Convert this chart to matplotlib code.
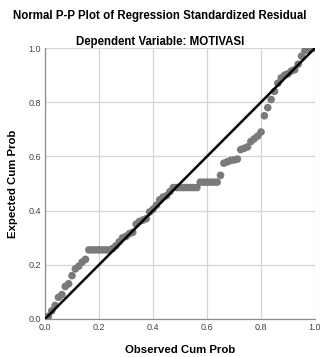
import matplotlib.pyplot as plt

# observed vs expected cumulative probabilities
observed = [
    0.0125, 0.025, 0.0375, 0.05, 0.0625, 0.075, 0.0875, 0.1, 0.1125, 0.125, 0.1375, 0.15,
    0.1625, 0.175, 0.1875, 0.2, 0.2125, 0.225, 0.2375,
    0.25, 0.2625, 0.275, 0.2875, 0.3, 0.3125, 0.325, 0.3375, 0.35, 0.3625, 0.375,
    0.3875, 0.4, 0.4125, 0.425, 0.4375, 0.45, 0.4625,
    0.475, 0.4875, 0.5, 0.5125, 0.525, 0.5375, 0.55, 0.5625,
    0.575, 0.5875, 0.6, 0.6125, 0.625, 0.6375,
    0.65, 0.6625, 0.675, 0.6875, 0.7, 0.7125, 0.725, 0.7375, 0.75, 0.7625, 0.775,
    0.7875, 0.8, 0.8125, 0.825, 0.8375, 0.85, 0.8625, 0.875, 0.8875, 0.9, 0.9125,
    0.925, 0.9375, 0.95, 0.9625, 0.975, 0.9875, 1.0,
]
expected = [
    0.01, 0.03, 0.05, 0.08, 0.09, 0.12, 0.13, 0.16, 0.185, 0.195, 0.21, 0.22,
    0.255, 0.255, 0.255, 0.255, 0.255, 0.255, 0.255,
    0.26, 0.27, 0.285, 0.30, 0.305, 0.315, 0.32, 0.35, 0.36, 0.365, 0.37,
    0.395, 0.405, 0.42, 0.44, 0.45, 0.455, 0.47,
    0.485, 0.485, 0.485, 0.485, 0.485, 0.485, 0.485, 0.485,
    0.505, 0.505, 0.505, 0.505, 0.505, 0.505,
    0.53, 0.575, 0.58, 0.585, 0.587, 0.59, 0.625, 0.63, 0.635, 0.655, 0.665,
    0.675, 0.69, 0.75, 0.78, 0.81, 0.84, 0.87, 0.89, 0.90, 0.905, 0.915,
    0.92, 0.94, 0.97, 0.99, 0.995, 0.998, 1.0,
]
ticks = [0.0, 0.2, 0.4, 0.6, 0.8, 1.0]
tick_labels = ["0.0", "0.2", "0.4", "0.6", "0.8", "1.0"]

plt.rcParams['font.family'] = ['Liberation Sans', 'DejaVu Sans']

fig = plt.figure(figsize=(3.2, 3.57), dpi=100)
ax = fig.add_axes([45 / 320, 1 - 319 / 357, 270 / 320, 271 / 357])

ax.scatter(observed, expected, s=30, color='#7a7a7a', edgecolors='none', zorder=3)
ax.plot([0, 1], [0, 1], color='black', linewidth=1.8, zorder=4)

ax.set_xlim(0, 1)
ax.set_ylim(0, 1)
ax.set_xticks(ticks)
ax.set_xticklabels(tick_labels)
ax.set_yticks(ticks)
ax.set_yticklabels(tick_labels)
ax.tick_params(length=0, labelsize=6.5, colors='#444444', pad=3)
ax.grid(True, color='#d4d4d4', linewidth=0.9)
ax.set_axisbelow(True)
for side in ['top', 'right']:
    ax.spines[side].set_visible(False)
for side in ['left', 'bottom']:
    ax.spines[side].set_color('#8c8c8c')
    ax.spines[side].set_linewidth(0.9)

ax.set_xlabel('Observed Cum Prob', fontsize=8.2, fontweight='bold', labelpad=9)
ax.set_ylabel('Expected Cum Prob', fontsize=8.2, fontweight='bold', labelpad=7)

fig.text(0.5, 1 - 16 / 357, 'Normal P-P Plot of Regression Standardized Residual',
         ha='center', va='center', fontsize=8.3, fontweight='bold')
fig.text(0.5, 1 - 42 / 357, 'Dependent Variable: MOTIVASI',
         ha='center', va='center', fontsize=8.3, fontweight='bold')

fig.savefig('out.png', dpi=100)
